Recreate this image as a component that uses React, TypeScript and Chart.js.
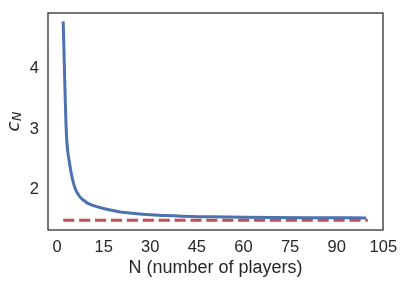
import React, { useEffect, useRef } from "react";
import { Chart, registerables } from "chart.js";

Chart.register(...registerables);

// Blue curve c_N
const nValues = [2, 3, 4, 5, 6, 7, 8, 9, 10, 12, 14, 16, 18, 20, 25, 30, 35, 40, 50, 60, 70, 80, 90, 99];
const cValues = [4.75, 2.95, 2.45, 2.17, 2.0, 1.91, 1.85, 1.81, 1.775, 1.735, 1.705, 1.68, 1.66, 1.638, 1.608, 1.59, 1.575, 1.565, 1.555, 1.548, 1.544, 1.541, 1.539, 1.537];
// Red dashed limit
const limitN = [2, 100];
const limitValue = [1.5, 1.5];

const xTicks = [0, 15, 30, 45, 60, 75, 90, 105];
const yTicks = [2, 3, 4];

const xLabel = "N (number of players)";

const BLUE = "#4C72B0";
const RED = "#C44E52";
const DARK = "#262626";
const SANS = "'Liberation Sans', Arial, sans-serif";

const framePlugin = {
  id: "frameAndTitles",
  afterDraw(chart: any) {
    const { ctx, chartArea } = chart;
    const { left, right, top, bottom } = chartArea;
    ctx.save();
    ctx.strokeStyle = DARK;
    ctx.lineWidth = 1.25;
    ctx.strokeRect(left, top, right - left, bottom - top);

    // x title
    ctx.fillStyle = DARK;
    ctx.font = `18px ${SANS}`;
    ctx.textAlign = "center";
    ctx.textBaseline = "alphabetic";
    ctx.fillText(xLabel, (left + right) / 2, 272.7);

    // y title: c_N (italic math), rotated
    ctx.translate(19.3, 131.5);
    ctx.rotate(-Math.PI / 2);
    ctx.textAlign = "left";
    ctx.font = `italic 18px 'DejaVu Sans', sans-serif`;
    ctx.fillText("c", 0, 0);
    const wc = ctx.measureText("c").width;
    ctx.font = `italic 12.6px 'DejaVu Sans', sans-serif`;
    ctx.fillText("N", wc + 0.5, 1.5);
    ctx.restore();
  },
};

const zeroPad = (s: any) => {
  s.paddingTop = 0;
  s.paddingBottom = 0;
  s.paddingLeft = 0;
  s.paddingRight = 0;
};

export default function App() {
  const ref = useRef<HTMLCanvasElement>(null);

  useEffect(() => {
    if (!ref.current) return;
    const chart = new Chart(ref.current, {
      type: "line",
      data: {
        datasets: [
          {
            data: nValues.map((n, i) => ({ x: n, y: cValues[i] })),
            borderColor: BLUE,
            borderWidth: 3,
            pointRadius: 0,
            fill: false,
            cubicInterpolationMode: "monotone",
            borderCapStyle: "square",
            borderJoinStyle: "round",
          },
          {
            data: limitN.map((n, i) => ({ x: n, y: limitValue[i] })),
            borderColor: RED,
            borderWidth: 3,
            borderDash: [11.1, 4.8],
            borderCapStyle: "butt",
            pointRadius: 0,
            fill: false,
          },
        ],
      },
      options: {
        responsive: false,
        animation: false,
        events: [],
        layout: { padding: { left: 0, top: 13, right: 20, bottom: 0 } },
        plugins: { legend: { display: false }, tooltip: { enabled: false } },
        scales: {
          x: {
            type: "linear",
            min: -2.9,
            max: 104.9,
            grid: { display: false, drawTicks: false },
            border: { display: false },
            afterBuildTicks: (s: any) => {
              s.ticks = xTicks.map((v) => ({ value: v }));
            },
            afterFit: (s: any) => {
              s.height = 54;
              zeroPad(s);
            },
            ticks: {
              autoSkip: false,
              maxRotation: 0,
              padding: 8,
              color: DARK,
              font: { family: SANS, size: 16.5 },
              callback: (v: any) => String(v),
            },
          },
          y: {
            type: "linear",
            min: 1.3375,
            max: 4.9125,
            grid: { display: false, drawTicks: false },
            border: { display: false },
            afterBuildTicks: (s: any) => {
              s.ticks = yTicks.map((v) => ({ value: v }));
            },
            afterFit: (s: any) => {
              s.width = 48;
              zeroPad(s);
            },
            ticks: {
              autoSkip: false,
              padding: 9,
              color: DARK,
              font: { family: SANS, size: 16.5 },
              callback: (v: any) => String(v),
            },
          },
        },
      },
      plugins: [framePlugin],
    } as any);
    return () => chart.destroy();
  }, []);

  return (
    <div style={{ position: "absolute", left: 0, top: 0, width: 403, height: 284, background: "#fff" }}>
      <canvas ref={ref} width={403} height={284} style={{ display: "block" }} />
    </div>
  );
}
